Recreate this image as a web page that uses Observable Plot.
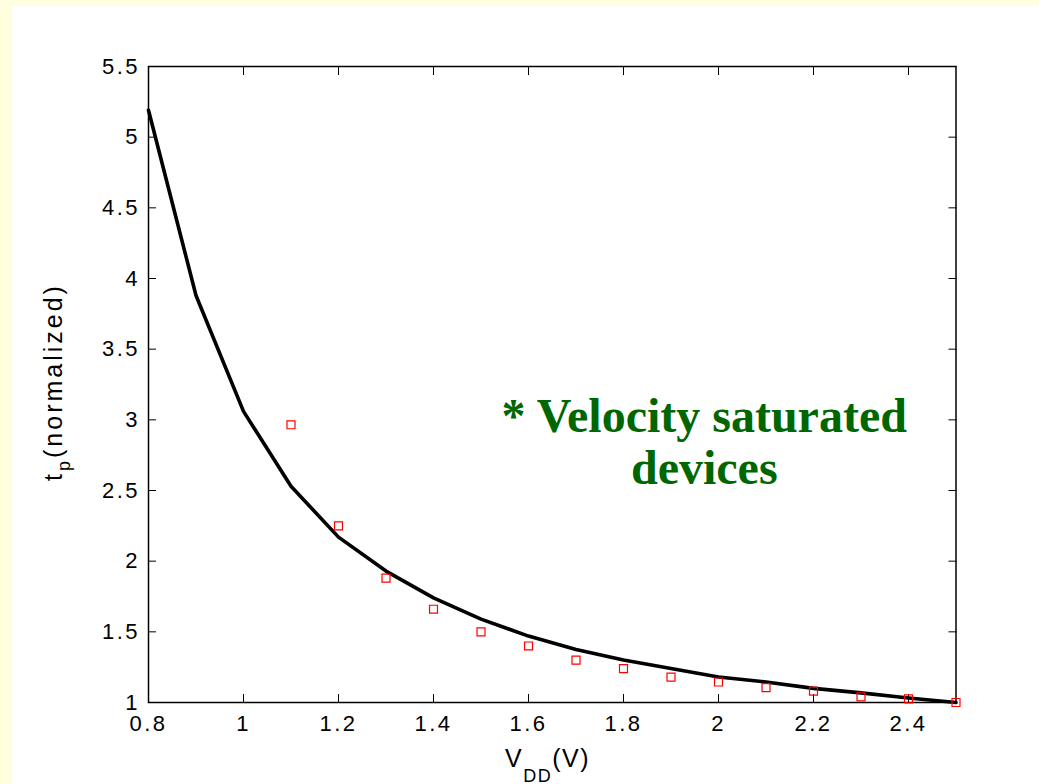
<!DOCTYPE html>
<html>
<head>
<meta charset="utf-8">
<script src="https://cdn.jsdelivr.net/npm/d3@7"></script>
<script src="https://cdn.jsdelivr.net/npm/@observablehq/plot@0.6"></script>
<style>
  html, body { margin: 0; padding: 0; background: #FFFFE0; width: 1039px; height: 784px; overflow: hidden; }
  #panel { position: absolute; left: 12px; top: 6px; width: 1027px; height: 778px; background: #ffffff; }
  #panel svg { display: block; }
  #panel g[aria-label="y-axis tick label"] text,
  #panel g[aria-label="x-axis tick label"] text { letter-spacing: 2.5px; }
</style>
</head>
<body>
<div id="panel"></div>
<script>
// Supply voltage (V) for the model curve
const vdd = [0.8, 0.9, 1.0, 1.1, 1.2, 1.3, 1.4, 1.5, 1.6, 1.7, 1.8, 1.9, 2.0, 2.1, 2.2, 2.3, 2.4, 2.5];
// Normalized propagation delay, solid line
const tpModel = [5.19, 3.88, 3.06, 2.53, 2.17, 1.93, 1.74, 1.59, 1.47, 1.375, 1.30, 1.24, 1.18, 1.145, 1.10, 1.068, 1.032, 1.0];
// Supply voltage (V) for the simulated points
const vddSim = [1.1, 1.2, 1.3, 1.4, 1.5, 1.6, 1.7, 1.8, 1.9, 2.0, 2.1, 2.2, 2.3, 2.4, 2.5];
// Normalized propagation delay, red squares
const tpSim = [2.965, 2.25, 1.88, 1.66, 1.50, 1.40, 1.30, 1.24, 1.18, 1.145, 1.105, 1.08, 1.04, 1.026, 1.0];
// Tick values
const xTicks = [0.8, 1.0, 1.2, 1.4, 1.6, 1.8, 2.0, 2.2, 2.4];
const yTicks = [1, 1.5, 2, 2.5, 3, 3.5, 4, 4.5, 5, 5.5];
// Annotation
const noteText = ["* Velocity saturated", "devices"];
const noteAt = {x: 1.97, y: 2.845};

const model = vdd.map((v, i) => ({v, t: tpModel[i]}));
const sim = vddSim.map((v, i) => ({v, t: tpSim[i]}));
const fmt = d => String(+d.toFixed(1));

const W = 1027, H = 778;
const chart = Plot.plot({
  width: W,
  height: H,
  marginLeft: 136,
  marginRight: 83.5,
  marginTop: 60,
  marginBottom: 82,
  style: {fontFamily: "'Liberation Sans', Arial, sans-serif", fontSize: "22px", color: "#000", background: "#fff", overflow: "visible"},
  x: {domain: [0.8, 2.5]},
  y: {domain: [1, 5.5]},
  marks: [
    Plot.axisX({anchor: "bottom", ticks: xTicks, tickSize: -8, tickPadding: 21, tickFormat: fmt, label: null, stroke: "#000"}),
    Plot.axisX({anchor: "top", ticks: xTicks, tickSize: -8, tickFormat: () => "", label: null}),
    Plot.axisY({anchor: "left", ticks: yTicks, tickSize: -8, tickPadding: 16.5, tickFormat: fmt, label: null}),
    Plot.axisY({anchor: "right", ticks: yTicks, tickSize: -8, tickFormat: () => "", label: null}),
    Plot.frame({stroke: "#000", strokeWidth: 1.5}),
    Plot.line(model, {x: "v", y: "t", stroke: "#000", strokeWidth: 3.6, strokeLinejoin: "round"}),
    Plot.dot(sim, {x: "v", y: "t", symbol: "square", r: 4.5, stroke: "#ff0000", strokeWidth: 1.2, fill: "none"}),
    Plot.text([noteText.join("\n")], {
      x: () => noteAt.x, y: () => noteAt.y, text: d => d,
      fill: "#006600", fontFamily: "'Liberation Serif', 'Times New Roman', serif",
      fontWeight: "bold", fontSize: 48, lineHeight: 1.08, textAnchor: "middle", lineAnchor: "middle"
    })
  ]
});
document.getElementById("panel").appendChild(chart);

// Axis titles with subscripts
const svg = d3.select(chart);
const yl = svg.append("text")
  .attr("transform", `translate(50, 376) rotate(-90)`)
  .attr("text-anchor", "middle")
  .style("font-family", "'Liberation Sans', Arial, sans-serif")
  .style("font-size", "25px")
  .style("letter-spacing", "3px")
  .attr("fill", "#000");
yl.append("tspan").text("t");
yl.append("tspan").attr("dy", 8).style("font-size", "18px").text("p");
yl.append("tspan").attr("dy", -8).text("(normalized)");

const xl = svg.append("text")
  .attr("x", 493).attr("y", 761)
  .attr("text-anchor", "start")
  .style("font-family", "'Liberation Sans', Arial, sans-serif")
  .style("font-size", "25px")
  .style("letter-spacing", "1.5px")
  .attr("fill", "#000");
xl.append("tspan").text("V");
xl.append("tspan").attr("dy", 15).style("font-size", "18px").text("DD");
xl.append("tspan").attr("dy", -15).text("(V)");
</script>
</body>
</html>
